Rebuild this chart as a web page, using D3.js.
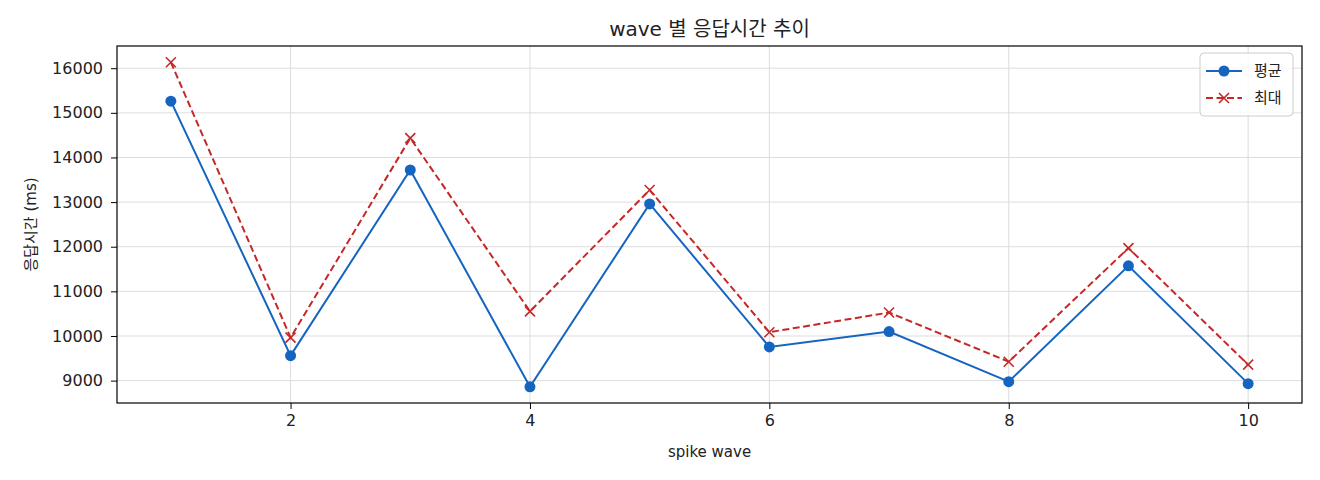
<!DOCTYPE html>
<html>
<head>
<meta charset="utf-8">
<script src="https://cdn.jsdelivr.net/npm/d3@7"></script>
<style>
  body { margin: 0; background: #fff; }
  svg text { font-family: "DejaVu Sans", "Noto Sans CJK KR", sans-serif; fill: #222; }
</style>
</head>
<body>
<div id="chart"></div>
<script>
// spike wave 번호
var waves = [1, 2, 3, 4, 5, 6, 7, 8, 9, 10];
// 평균 응답시간 (ms)
var avgMs = [15262, 9559, 13719, 8862, 12958, 9755, 10100, 8977, 11571, 8932];
// 최대 응답시간 (ms)
var maxMs = [16134, 9964, 14434, 10552, 13271, 10085, 10525, 9424, 11970, 9357];
var yTicks = [9000, 10000, 11000, 12000, 13000, 14000, 15000, 16000];
var xTicks = [2, 4, 6, 8, 10];

var width = 1320, height = 480;
var margin = { top: 46, right: 18, bottom: 77, left: 117 };
var iw = width - margin.left - margin.right;
var ih = height - margin.top - margin.bottom;

var svg = d3.select("#chart").append("svg")
    .attr("width", width)
    .attr("height", height);

var lo = d3.min(avgMs.concat(maxMs)), hi = d3.max(avgMs.concat(maxMs));
var pad = (hi - lo) * 0.05;
var x = d3.scaleLinear().domain([1 - 0.45, 10 + 0.45]).range([0, iw]);
var y = d3.scaleLinear().domain([lo - pad, hi + pad]).range([ih, 0]);

var g = svg.append("g").attr("transform", "translate(" + margin.left + "," + margin.top + ")");

// grid
g.append("g")
    .selectAll("line.gy")
    .data(yTicks)
    .enter().append("line")
    .attr("x1", 0).attr("x2", iw)
    .attr("y1", function (d) { return y(d); })
    .attr("y2", function (d) { return y(d); })
    .style("stroke", "#ddd").style("stroke-width", 1);
g.append("g")
    .selectAll("line.gx")
    .data(xTicks)
    .enter().append("line")
    .attr("y1", 0).attr("y2", ih)
    .attr("x1", function (d) { return x(d); })
    .attr("x2", function (d) { return x(d); })
    .style("stroke", "#ddd").style("stroke-width", 1);

// axes
var xAxis = g.append("g")
    .attr("transform", "translate(0," + ih + ")")
    .call(d3.axisBottom(x).tickValues(xTicks).tickSize(6).tickPadding(6).tickFormat(d3.format("d")));
var yAxis = g.append("g")
    .call(d3.axisLeft(y).tickValues(yTicks).tickSize(6).tickPadding(8).tickFormat(d3.format("d")));
[xAxis, yAxis].forEach(function (a) {
    a.select(".domain").remove();
    a.selectAll("text").style("font-size", "16px").style("fill", "#222");
    a.selectAll("line").style("stroke", "#000");
});

g.append("rect")
    .attr("width", iw).attr("height", ih)
    .style("fill", "none").style("stroke", "#000").style("stroke-width", 1.2);

// lines
var lineGen = d3.line()
    .x(function (d, i) { return x(waves[i]); })
    .y(function (d) { return y(d); });

g.append("path")
    .datum(maxMs)
    .attr("d", lineGen)
    .style("fill", "none")
    .style("stroke", "#c62828")
    .style("stroke-width", 2)
    .style("stroke-dasharray", "7,3.5");

g.append("path")
    .datum(avgMs)
    .attr("d", lineGen)
    .style("fill", "none")
    .style("stroke", "#1565c0")
    .style("stroke-width", 2);

g.append("g")
    .selectAll("circle")
    .data(avgMs)
    .enter().append("circle")
    .attr("cx", function (d, i) { return x(waves[i]); })
    .attr("cy", function (d) { return y(d); })
    .attr("r", 5.5)
    .style("fill", "#1565c0");

var xs = 5;
g.append("g")
    .selectAll("path")
    .data(maxMs)
    .enter().append("path")
    .attr("d", function (d, i) {
        var cx = x(waves[i]), cy = y(d);
        return "M" + (cx - xs) + "," + (cy - xs) + "L" + (cx + xs) + "," + (cy + xs) +
            "M" + (cx - xs) + "," + (cy + xs) + "L" + (cx + xs) + "," + (cy - xs);
    })
    .style("stroke", "#c62828")
    .style("stroke-width", 1.6)
    .style("fill", "none");

// titles
svg.append("text")
    .attr("x", margin.left + iw / 2).attr("y", 36)
    .attr("text-anchor", "middle")
    .style("font-size", "20px")
    .text("wave 별 응답시간 추이");
svg.append("text")
    .attr("x", margin.left + iw / 2).attr("y", 457)
    .attr("text-anchor", "middle")
    .style("font-size", "15px")
    .text("spike wave");
svg.append("text")
    .attr("transform", "translate(36," + (margin.top + ih / 2) + ") rotate(-90)")
    .attr("text-anchor", "middle")
    .style("font-size", "15px")
    .text("응답시간 (ms)");

// legend
var lg = svg.append("g").attr("transform", "translate(1200,53)");
lg.append("rect")
    .attr("width", 93).attr("height", 63).attr("rx", 4)
    .style("fill", "#fff").style("fill-opacity", 0.8)
    .style("stroke", "#ccc");
var items = [
    { name: "평균", color: "#1565c0", dash: null, mark: "circle" },
    { name: "최대", color: "#c62828", dash: "7,3.5", mark: "x" }
];
items.forEach(function (it, i) {
    var cy = 18 + i * 27;
    lg.append("line")
        .attr("x1", 6).attr("x2", 42).attr("y1", cy).attr("y2", cy)
        .style("stroke", it.color).style("stroke-width", 2)
        .style("stroke-dasharray", it.dash);
    if (it.mark === "circle") {
        lg.append("circle").attr("cx", 24).attr("cy", cy).attr("r", 5.5).style("fill", it.color);
    } else {
        lg.append("path")
            .attr("d", "M19," + (cy - 5) + "L29," + (cy + 5) + "M19," + (cy + 5) + "L29," + (cy - 5))
            .style("stroke", it.color).style("stroke-width", 1.6);
    }
    lg.append("text")
        .attr("x", 54).attr("y", cy + 5)
        .style("font-size", "15px")
        .text(it.name);
});
</script>
</body>
</html>
